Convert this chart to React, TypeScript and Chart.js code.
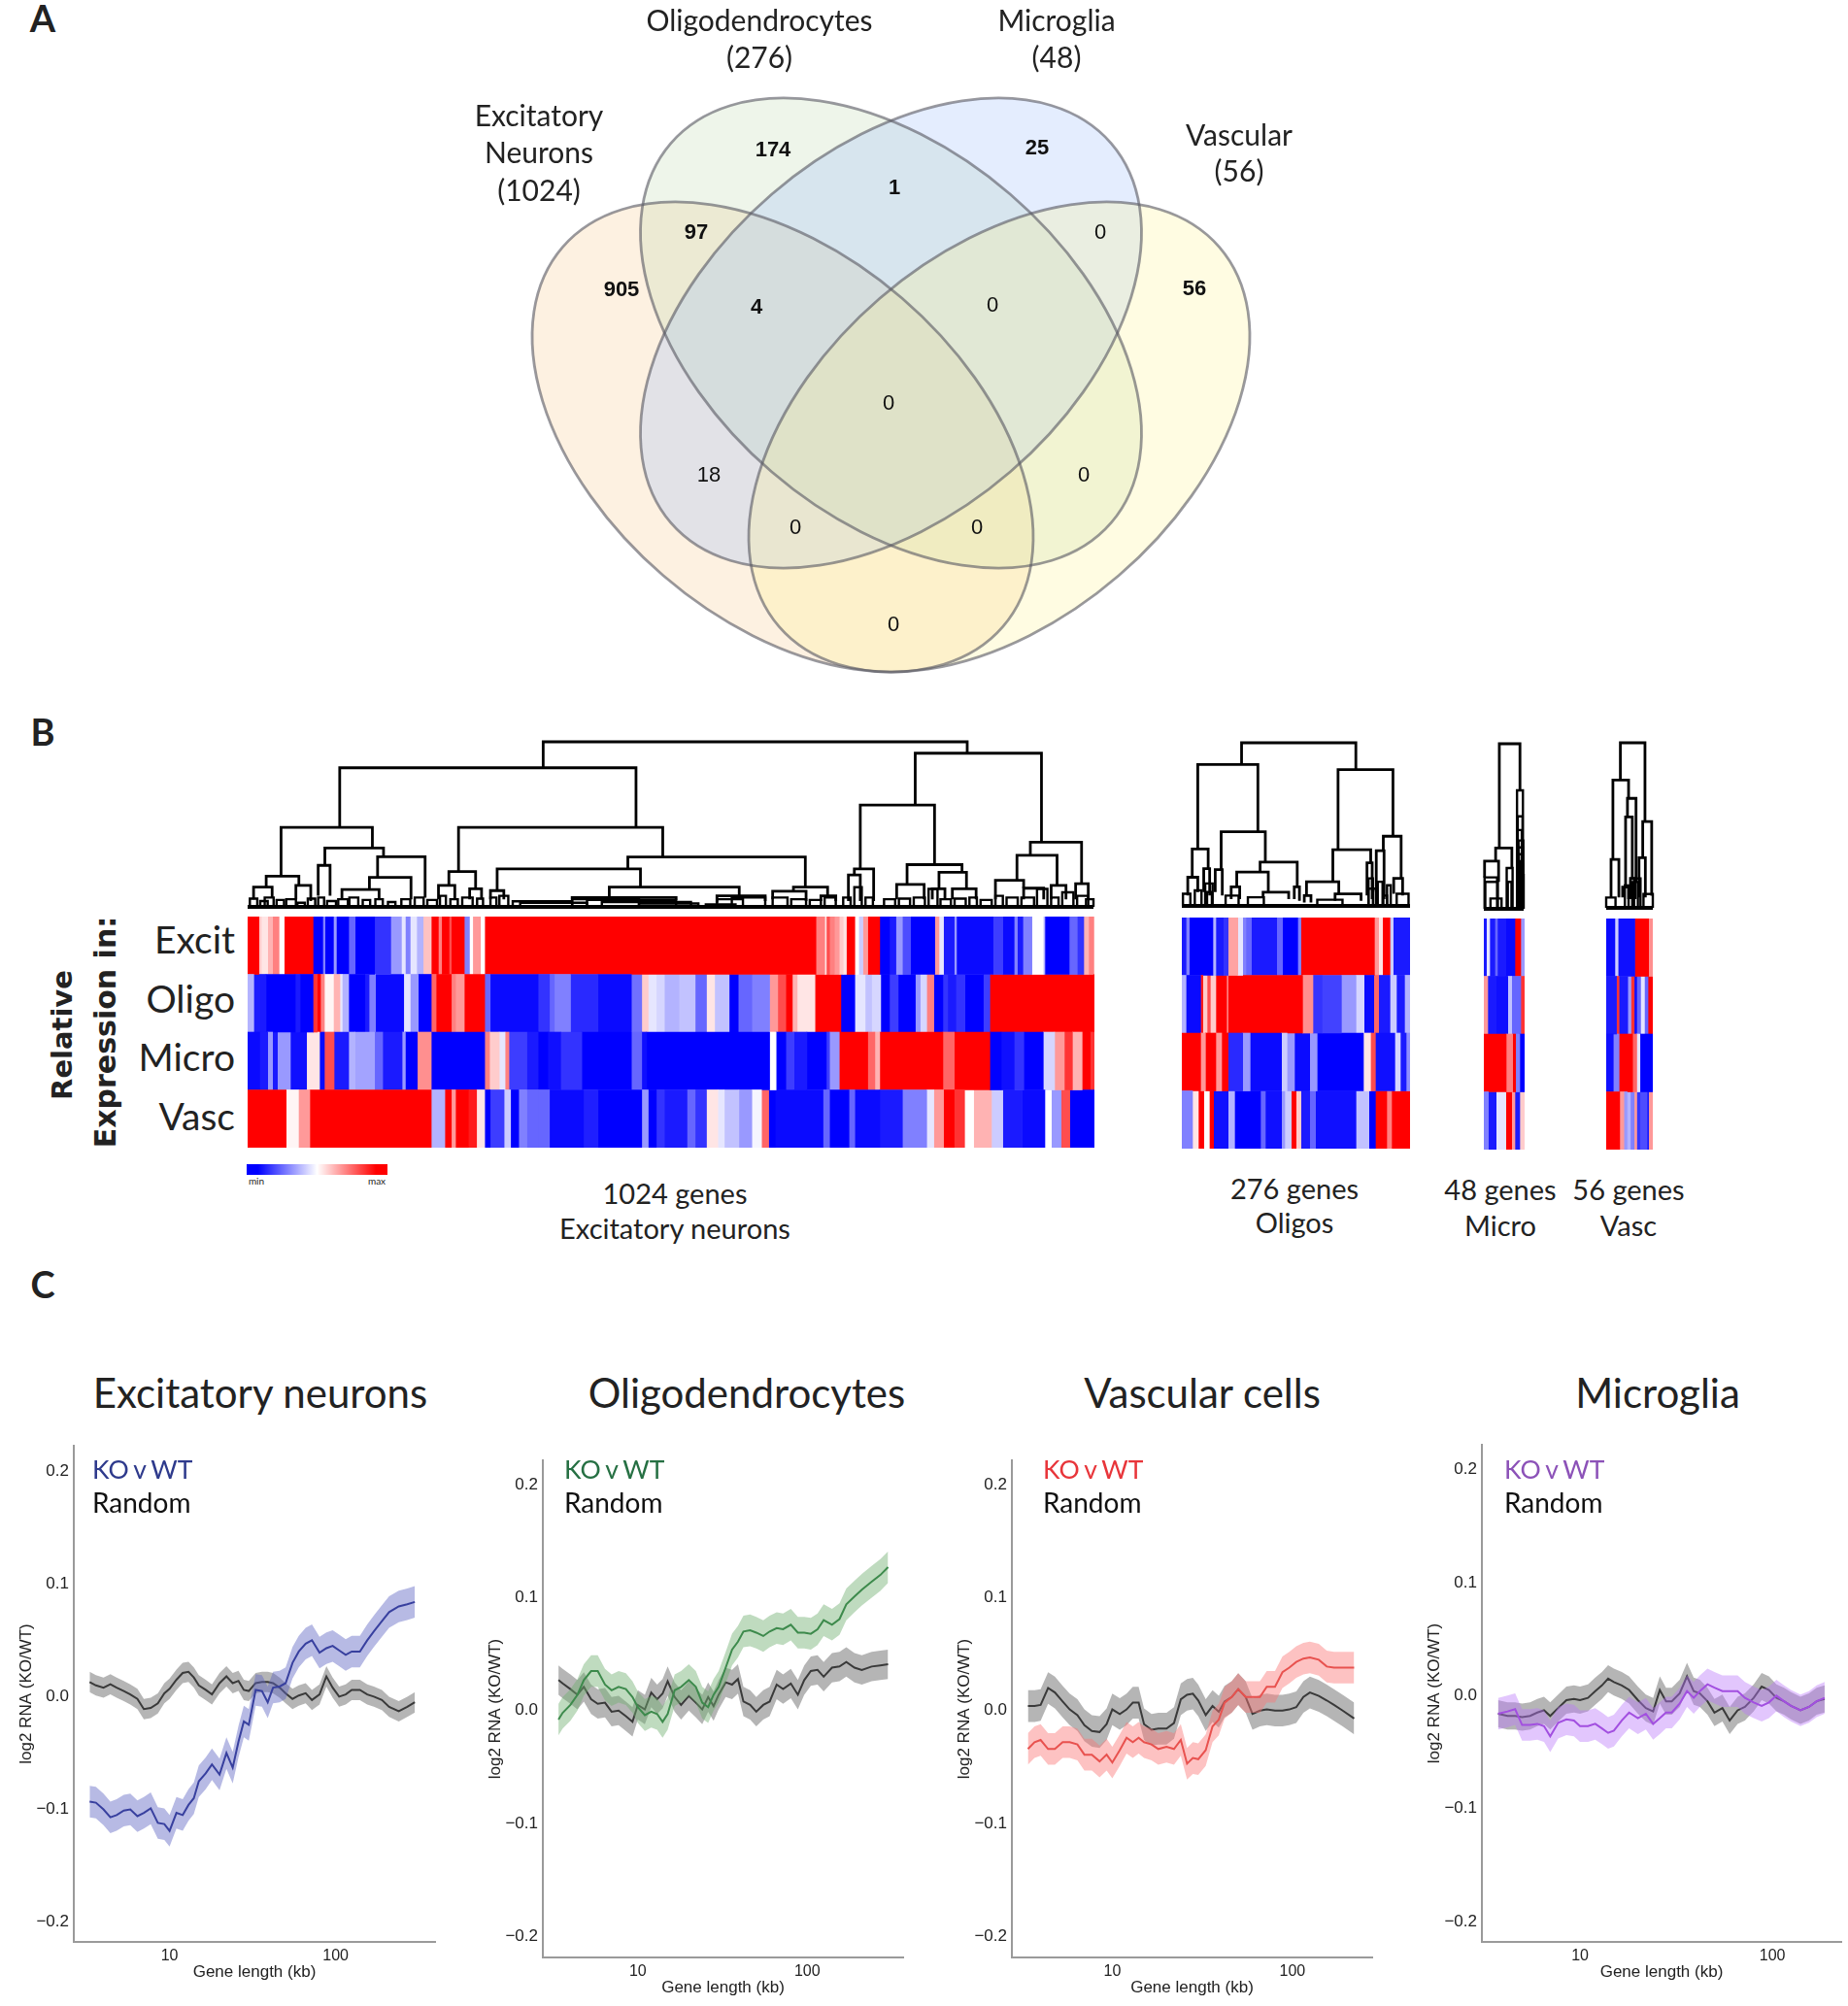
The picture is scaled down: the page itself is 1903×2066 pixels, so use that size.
import React, { useEffect, useRef } from "react";
import { Chart, registerables } from "chart.js";

Chart.register(...registerables);

/* ---------- Panel A: Venn ---------- */
const vennSets = ["Excitatory Neurons", "Oligodendrocytes", "Microglia", "Vascular"];
const vennSetSizes = [1024, 276, 48, 56];
const vennCenters = [[806, 450], [917.5, 343], [917.5, 343], [1029, 450]];
const vennTilts = [40.75, 40.75, -40.75, -40.75];
const vennFills = ["rgba(247,199,135,.25)", "rgba(187,215,171,.25)", "rgba(146,185,250,.25)", "rgba(255,245,140,.25)"];
const vennCounts = [905, 174, 25, 56, 97, 1, 0, 4, 0, 0, 18, 0, 0, 0, 0];
const vennCountX = [640, 796, 1068, 1230, 717, 921, 1133, 779, 1022, 915, 730, 1116, 819, 1006, 920];
const vennCountY = [299, 155, 153, 298, 240, 194, 240, 317, 315, 416, 490, 490, 544, 544, 644];
const vennBold = [1, 1, 1, 1, 1, 1, 0, 1, 0, 0, 0, 0, 0, 0, 0];

/* ---------- Panel B: heat maps, each run = [end position, relative expression 0..1] ---------- */
const rowNames = ["Excit", "Oligo", "Micro", "Vasc"];
const mainExcit = [[38,1],[45,.6],[65,.55],[80,.65],[100,.75],[116,.5],[205,1],[235,0],[242,.25],[268,0],[277,.3],[315,0],[335,.2],[395,0],[445,.1],[478,.3],[490,.45],[505,.25],[525,.45],[545,.35],[570,.62],[592,1],[602,.75],[625,1],[632,.85],[672,1],[688,.25],[698,.5],[722,.7],[735,.5],[1758,1],[1785,.75],[1790,.55],[1800,.85],[1815,.75],[1830,.7],[1842,.6],[1852,.55],[1878,1],[1890,.5],[1903,.4],[1918,.7],[1955,1],[1985,0],[2005,.05],[2025,.3],[2050,.15],[2125,0],[2138,.7],[2152,.45],[2185,.05],[2192,.3],[2305,.02],[2335,.12],[2370,.02],[2380,.25],[2397,.05],[2425,.25],[2460,.5],[2465,.35],[2540,0],[2565,.2],[2585,.1],[2600,.65],[2615,.75],[2618,.65]];
const mainOligo = [[22,.35],[60,.05],[150,0],[165,.05],[205,0],[218,.9],[228,1],[240,.75],[268,.52],[288,.65],[295,.45],[315,.35],[365,0],[378,.05],[398,.25],[485,.02],[505,.45],[530,.3],[570,0],[585,.8],[632,1],[645,.75],[672,.7],[735,1],[752,.2],[900,.02],[935,.1],[950,.2],[1000,.25],[1085,.08],[1188,.02],[1220,.22],[1240,.6],[1265,.45],[1290,.42],[1335,.35],[1385,.38],[1420,.2],[1445,.55],[1490,.38],[1518,0],[1560,.2],[1615,.25],[1640,.7],[1665,.85],[1685,1],[1700,.65],[1755,.55],[1835,1],[1878,0],[1910,.45],[1930,.38],[1958,.42],[1985,0],[2012,.12],[2065,0],[2080,.3],[2100,.42],[2122,.75],[2150,0],[2165,.1],[2190,.05],[2218,.1],[2275,0],[2295,.12],[2618,1]];
const mainMicro = [[40,.02],[65,.05],[80,.3],[95,.05],[135,.3],[185,.03],[225,.55],[240,.02],[270,.85],[315,.05],[335,.35],[395,.32],[420,.2],[480,.05],[490,.3],[527,0],[570,.72],[735,0],[750,.75],[780,.6],[798,.45],[810,.75],[865,.12],[900,.05],[930,0],[970,.03],[1035,.1],[1188,0],[1220,.2],[1235,.03],[1615,0],[1635,.5],[1665,0],[1690,.12],[1730,.05],[1790,0],[1800,.12],[1830,.3],[1918,1],[1940,.8],[1955,.65],[2150,1],[2185,.8],[2295,1],[2330,0],[2370,.03],[2400,.1],[2460,0],[2495,.42],[2525,.7],[2550,.9],[2580,.65],[2605,1],[2618,.9]];
const mainVasc = [[122,1],[160,.52],[195,.7],[570,1],[612,.35],[632,1],[645,.7],[685,1],[710,.95],[735,.55],[752,0],[795,.12],[815,.4],[840,0],[865,.25],[900,.2],[935,.2],[1040,.02],[1085,.06],[1220,0],[1240,.3],[1265,0],[1290,.1],[1360,.05],[1385,.2],[1420,.1],[1455,.55],[1475,.45],[1520,.38],[1560,.3],[1590,.48],[1612,.8],[1632,0],[1780,.02],[1800,.2],[1860,0],[1878,.2],[1955,.02],[2025,.05],[2100,.25],[2122,.45],[2152,.7],[2185,1],[2217,.9],[2245,.5],[2300,.65],[2335,.4],[2395,.05],[2465,.02],[2485,.5],[2515,.3],[2542,.85],[2618,0]];

const oligoExcit = [[20,.05],[30,.25],[103,0],[112,.35],[135,.05],[150,.1],[180,.68],[195,.45],[205,.25],[222,.2],[300,.05],[318,.2],[365,0],[375,.25],[602,1],[615,.7],[627,.55],[650,1],[660,.4],[712,.05]];
const oligoOligo = [[20,.35],[65,.02],[72,.95],[85,.6],[95,.85],[112,.6],[145,1],[150,.75],[380,1],[412,.72],[440,.1],[500,.13],[545,.3],[570,.42],[600,.02],[615,.8],[650,.05],[670,.4],[695,.05],[712,.35]];
const oligoMicro = [[65,1],[80,.7],[112,1],[130,.7],[150,1],[195,.08],[218,.3],[315,.02],[332,.4],[355,.3],[402,.02],[425,.3],[568,0],[590,.55],[605,.85],[665,.03],[682,.42],[700,.05],[712,.28]];
const oligoVasc = [[40,.25],[58,.55],[75,1],[92,.5],[105,1],[150,.03],[170,.35],[250,0],[265,.2],[315,.03],[325,.3],[345,.4],[360,1],[375,.6],[402,.05],[420,.2],[545,.03],[585,.38],[605,0],[640,1],[655,.75],[712,1]];

const microExcit = [[32,.05],[42,.45],[58,.05],[66,.2],[92,.05],[120,.02],[138,1],[150,.3]];
const microOligo = [[36,.7],[62,.05],[98,.03],[110,.38],[138,.2],[150,.9]];
const microMicro = [[93,1],[113,.75],[122,1],[135,.25],[150,0]];
const microVasc = [[38,.25],[62,.05],[92,.45],[110,1],[120,.7],[135,.05],[150,.6]];

const vascExcit = [[430,.02],[440,.4],[492,.03],[535,1],[548,.72]];
const vascOligo = [[435,.05],[443,.9],[470,.05],[480,.3],[490,.9],[498,.03],[510,.2],[522,.45],[533,.2],[548,1]];
const vascMicro = [[425,.03],[443,.25],[485,1],[498,.8],[508,.45],[548,0]];
const vascVasc = [[445,1],[458,.7],[468,.3],[478,.35],[490,.25],[498,.7],[508,.1],[530,.15],[535,.05],[548,.7]];

/* dendrogram merges: [left x, left bottom, right x, right bottom, top] */
const mainLinks = [[731,170,1302,128,95],[457,342,856,342,170],[1232,278,1402,385,128],[378,483,501,402,342],[617,470,892,428,342],[358,515,402,510,483],[437,452,516,427,402],[428,540,444,540,452],[508,487,572,545,427],[497,522,553,550,487],[460,550,510,550,522],[341,550,366,545,515],[398,550,418,555,510],[604,510,640,520,470],[590,550,612,550,510],[632,550,648,550,520],[845,462,1084,515,428],[669,525,862,515,462],[660,550,678,550,525],[820,545,995,540,515],[770,552,910,552,545],[965,560,1030,555,540],[1068,527,1114,540,515],[1040,550,1085,555,527],[1105,555,1125,555,540],[1158,462,1258,450,278],[1150,480,1176,555,462],[1142,555,1158,555,480],[1221,507,1295,472,450],[1207,550,1244,550,507],[1264,520,1301,520,472],[1255,550,1272,550,520],[1282,550,1314,550,520],[1387,423,1456,505,385],[1369,495,1423,510,423],[1340,550,1378,518,495],[1378,550,1405,550,518],[1415,550,1435,550,510],[1448,550,1465,550,505]];
const mainTwigs = [[336,346,548],[350,360,555],[356,368,545],[372,382,552],[385,398,550],[400,410,560],[414,424,548],[428,436,545],[440,452,555],[455,468,550],[470,482,545],[488,498,552],[505,515,550],[522,532,558],[540,552,550],[558,570,545],[575,588,552],[592,600,540],[606,616,550],[622,636,545],[642,650,548],[660,668,545],[672,684,540],[690,770,556],[700,790,560],[770,860,550],[790,910,552],[810,930,558],[860,940,562],[950,990,565],[965,1000,550],[985,1030,545],[1040,1060,545],[1065,1085,550],[1090,1105,552],[1110,1125,545],[1135,1145,545],[1150,1160,515],[1165,1175,545],[1190,1205,550],[1210,1225,548],[1230,1245,545],[1250,1262,520],[1266,1280,550],[1285,1300,548],[1305,1315,545],[1320,1335,552],[1340,1350,540],[1355,1370,545],[1375,1392,545],[1396,1410,520],[1415,1425,545],[1430,1445,530],[1450,1465,540],[1462,1472,550]];
const oligoLinks = [[258,160,566,175,97],[140,405,302,355,160],[518,407,666,368,175],[125,487,168,462,405],[203,465,322,443,355],[113,540,140,530,487],[156,530,172,540,462],[187,530,206,540,465],[308,472,408,515,443],[245,515,330,530,472],[230,550,253,550,515],[316,545,385,550,530],[400,550,414,555,515],[504,500,606,445,407],[640,410,688,490,368],[433,540,520,535,500],[427,560,445,560,540],[510,555,580,555,535],[596,540,610,550,445],[621,530,642,550,410],[668,535,692,540,490]];
const oligoTwigs = [[100,120,535],[132,150,525],[160,180,505],[215,250,540],[275,318,545],[462,530,552],[600,620,520],[650,660,510],[676,708,535],[165,178,530],[600,612,490],[625,638,500],[640,650,540]];
const microLinks = [[952,402,1008,235,100],[942,440,986,460,402],[912,487,950,500,440]];
const microTwigs = [[912,946,487],[914,948,500],[928,958,548],[972,988,460],[975,985,500],[1000,1016,235],[1002,1015,310],[1004,1017,380],[1005,1014,420],[1006,1016,450],[1008,1018,480],[1010,1015,510],[1001,1013,350],[1003,1016,400],[1007,1012,440]];
const vascLinks = [[1278,205,1344,325,97],[1258,435,1300,258,205],[1253,545,1274,545,435],[1297,312,1320,500,258],[1292,515,1310,490,312],[1284,545,1300,550,515],[1305,550,1318,550,490],[1338,430,1362,540,325],[1328,545,1345,545,430]];
const vascTwigs = [[1240,1265,545],[1315,1332,490],[1340,1365,535],[1290,1300,510],[1310,1325,500]];

const heatPanels = [
  { rows: [mainExcit, mainOligo, mainMicro, mainVasc], h0: 3, h1: 2618, hLeft: 255, hRight: 1126.5, top: 944, bottom: 1182,
    x0: 333, x1: 1472, left: 254.5, right: 1125, links: mainLinks, twigs: mainTwigs, yTop: 95, yBase: 572, treeTop: 764, treeBottom: 934 },
  { rows: [oligoExcit, oligoOligo, oligoMicro, oligoVasc], h0: 7, h1: 712, hLeft: 1217.3, hRight: 1452.3, top: 945, bottom: 1183,
    x0: 97, x1: 712, left: 1217, right: 1452, links: oligoLinks, twigs: oligoTwigs, yTop: 97, yBase: 570, treeTop: 764.6, treeBottom: 933 },
  { rows: [microExcit, microOligo, microMicro, microVasc], h0: 24, h1: 150, hLeft: 1528, hRight: 1570, top: 946, bottom: 1184,
    x0: 910, x1: 1018, left: 1527.8, right: 1569, links: microLinks, twigs: microTwigs, yTop: 100, yBase: 578, treeTop: 765.7, treeBottom: 936 },
  { rows: [vascExcit, vascOligo, vascMicro, vascVasc], h0: 403, h1: 548, hLeft: 1654.3, hRight: 1702.7, top: 946, bottom: 1184,
    x0: 1240, x1: 1365, left: 1654, right: 1701.7, links: vascLinks, twigs: vascTwigs, yTop: 97, yBase: 575, treeTop: 764.6, treeBottom: 935 },
];

/* ---------- Panel C: series ---------- */
const gridExcit = [3.3,3.6,4,4.4,4.8,5.3,5.8,6.4,7,7.7,8.5,9.3,10,11,12,13,14,15,16.5,18,20,22,24,26,28,30,33,36,39,42,46,50,55,60,66,72,80,88,96,105,115,125,140,155,170,190,210,240,270,300];
const excitKO = [-.093,-.094,-.1,-.107,-.105,-.101,-.1,-.106,-.103,-.099,-.112,-.113,-.119,-.103,-.105,-.096,-.09,-.075,-.068,-.06,-.069,-.05,-.063,-.04,-.022,-.025,.006,.005,-.005,.008,.009,.012,.03,.04,.047,.05,.039,.043,.045,.041,.037,.04,.04,.05,.058,.067,.075,.08,.082,.084];
const excitRandom = [.013,.01,.008,.011,.008,.005,.002,-.002,-.011,-.01,-.006,.003,.007,.015,.021,.022,.017,.01,.006,.002,.012,.018,.012,.014,.006,.005,.012,.013,.013,.012,.008,.003,-.002,.001,.003,-.003,.002,.018,.008,0,.002,.006,.006,.002,0,-.003,-.009,-.013,-.009,-.005];

const gridOligo = [3.4,3.6,4,4.4,4.8,5.3,5.8,6.4,7,7.7,8.5,9.3,10,11,12,13,14,15,16.5,18,20,22,24,26,28,30,33,36,39,42,46,50,55,60,66,72,80,88,96,105,115,125,140,155,170,190,210,240,270,300];
const oligoKO = [-.008,-.002,.005,.014,.027,.035,.035,.023,.018,.021,.019,.012,.003,-.004,-.001,-.003,-.01,-.003,.018,.021,.027,.021,.007,.003,.014,.021,.038,.054,.061,.07,.071,.069,.066,.07,.073,.072,.076,.069,.069,.068,.072,.08,.076,.081,.094,.101,.107,.114,.12,.127];
const oligoRandom = [.027,.024,.019,.014,.021,.01,.006,.007,-.001,0,-.005,-.01,.005,.001,.016,.01,.015,.026,.012,.005,.013,.007,.001,.012,.004,.014,.025,.023,.028,.008,.005,-.001,.005,.008,.023,.019,.024,.014,.027,.035,.036,.03,.038,.039,.043,.038,.036,.039,.04,.041];

const gridVasc = [3.4,3.7,4,4.4,4.8,5.3,5.8,6.4,7,7.7,8.5,9.3,10,11,12,13,14,15,16.5,18,20,22,24,26,28,30,33,36,39,42,46,50,55,60,66,72,80,88,96,105,115,125,140,155,170,190,220];
const vascKO = [-.034,-.028,-.026,-.034,-.034,-.028,-.028,-.03,-.039,-.039,-.045,-.039,-.046,-.035,-.024,-.028,-.024,-.028,-.03,-.034,-.032,-.034,-.026,-.047,-.042,-.043,-.035,-.014,-.008,.007,.012,.019,.012,.012,.012,.021,.021,.034,.038,.043,.046,.047,.045,.039,.038,.038,.038];
const vascRandom = [.004,.004,.005,.02,.016,.008,.001,-.004,-.013,-.018,-.019,-.012,.001,-.003,.001,.007,.007,-.012,-.017,-.016,-.016,-.011,.01,.014,.015,.009,-.004,.004,-.001,.008,.012,.019,.012,-.003,0,.001,0,0,.001,.003,.012,.016,.013,.009,.005,0,-.007];

const gridMicro = [3.75,4.2,4.6,5,5.5,6,6.5,7,7.7,8.5,9.3,10,11,12,13,14,15,16.5,18,20,22,24,26,28,30,33,36,39,42,46,50,55,60,66,72,80,88,96,105,115,125,140,155,170,187];
const microKO = [-.016,-.014,-.012,-.026,-.026,-.025,-.027,-.036,-.024,-.021,-.022,-.027,-.027,-.025,-.029,-.033,-.031,-.022,-.015,-.02,-.016,-.025,-.02,-.015,-.015,-.007,.004,-.002,.004,.01,.007,.004,.004,.004,-.002,-.006,-.009,-.006,0,-.005,-.009,-.013,-.01,-.005,-.002];
const microRandom = [-.016,-.018,-.018,-.019,-.018,-.015,-.013,-.018,-.011,-.004,-.003,-.004,-.002,.004,.009,.015,.012,.009,.005,-.004,-.011,-.014,.005,-.005,-.005,.002,.017,.004,.002,-.005,-.015,-.011,-.022,-.013,-.01,-.002,.008,.005,-.002,-.005,-.009,-.013,-.01,-.005,-.003];

const yTicks = [-0.2, -0.1, 0, 0.1, 0.2];
const xTicks = [10, 100];

const linePanels = [
  { title: "Excitatory neurons", titleX: 268, grid: gridExcit, ko: excitKO, random: excitRandom, koErr: .014, randErr: .009, yMin: -.2175, yMax: .2225,
    line: "#38409f", band: "rgba(96,102,196,.45)", legendColor: "#2e3a8c", legendX: 95, left: 75.5, right: 447, top: 1489, bottom: 2000, xMin: 2.65, xMax: 397 },
  { title: "Oligodendrocytes", titleX: 769, grid: gridOligo, ko: oligoKO, random: oligoRandom, koErr: .014, randErr: .013, yMin: -.2185, yMax: .2215,
    line: "#3d8a4c", band: "rgba(112,176,112,.45)", legendColor: "#267043", legendX: 581, left: 558.8, right: 929.5, top: 1504, bottom: 2016, xMin: 2.75, xMax: 368 },
  { title: "Vascular cells", titleX: 1238, grid: gridVasc, ko: vascKO, random: vascRandom, koErr: .014, randErr: .014, yMin: -.2185, yMax: .2215,
    line: "#e8524f", band: "rgba(250,120,120,.45)", legendColor: "#e8353a", legendX: 1074, left: 1042, right: 1412.8, top: 1504, bottom: 2016, xMin: 2.77, xMax: 277 },
  { title: "Microglia", titleX: 1707, grid: gridMicro, ko: microKO, random: microRandom, koErr: .014, randErr: .012, yMin: -.218, yMax: .222,
    line: "#a24fe0", band: "rgba(186,120,250,.42)", legendColor: "#8c52b8", legendX: 1549, left: 1525.6, right: 1895.7, top: 1488, bottom: 2000, xMin: 3.09, xMax: 228 },
];

const LATO = "Lato, 'Open Sans', sans-serif";

function heatColor(v: number) {
  if (v <= 0.5) {
    const c = Math.round(255 * (v / 0.5));
    return `rgb(${c},${c},255)`;
  }
  const c = Math.round(255 * ((1 - v) / 0.5));
  return `rgb(255,${c},${c})`;
}

function useChart(make: (c: HTMLCanvasElement) => Chart) {
  const ref = useRef<HTMLCanvasElement | null>(null);
  useEffect(() => {
    const chart = make(ref.current as HTMLCanvasElement);
    return () => chart.destroy();
  }, []);
  return ref;
}

function Venn() {
  const ref = useChart((canvas) => {
    const plugin = {
      id: "venn",
      beforeDatasetsDraw(chart: any) {
        const { ctx, scales } = chart;
        const draw = (fill: boolean) => {
          vennCenters.forEach((c, i) => {
            ctx.beginPath();
            ctx.ellipse(scales.x.getPixelForValue(c[0]), scales.y.getPixelForValue(c[1]), 299.3, 188.5, (vennTilts[i] * Math.PI) / 180, 0, Math.PI * 2);
            if (fill) {
              ctx.fillStyle = vennFills[i];
              ctx.fill();
            } else {
              ctx.strokeStyle = "rgba(90,90,100,.62)";
              ctx.lineWidth = 2.8;
              ctx.stroke();
            }
          });
        };
        draw(true);
        draw(false);
      },
      afterDatasetsDraw(chart: any) {
        const { ctx } = chart;
        const pts = chart.getDatasetMeta(0).data;
        ctx.save();
        ctx.fillStyle = "#111";
        ctx.textAlign = "center";
        ctx.textBaseline = "middle";
        pts.forEach((p: any, i: number) => {
          ctx.font = `${vennBold[i] ? "bold " : ""}22px "Liberation Sans"`;
          ctx.fillText(String(vennCounts[i]), p.x, p.y);
        });
        ctx.restore();
      },
    };
    return new Chart(canvas, {
      type: "scatter",
      data: { datasets: [{ label: "counts", data: vennCounts.map((_, i) => ({ x: vennCountX[i], y: vennCountY[i] })), pointRadius: 0 }] },
      options: {
        animation: false, responsive: false, events: [],
        layout: { padding: 0 },
        plugins: { legend: { display: false }, tooltip: { enabled: false } },
        scales: {
          x: { type: "linear", min: 0, max: 1903, display: false },
          y: { type: "linear", min: 0, max: 720, reverse: true, display: false },
        },
      },
      plugins: [plugin],
    } as any);
  });
  return <canvas ref={ref} width={1903} height={720} style={{ position: "absolute", left: 0, top: 0 }} />;
}

function Heat({ p }: { p: any }) {
  const w = Math.round(p.hRight - p.hLeft);
  const h = Math.round(p.bottom - p.top);
  const ref = useChart((canvas) => {
    const runs = Math.max(...p.rows.map((r: number[][]) => r.length));
    const datasets: any[] = [];
    for (let i = 0; i < runs; i++) {
      datasets.push({
        data: p.rows.map((r: number[][]) => (r[i] ? r[i][0] - (i ? r[i - 1][0] : p.h0) : 0)),
        backgroundColor: p.rows.map((r: number[][]) => (r[i] ? heatColor(r[i][1]) : "rgba(0,0,0,0)")),
        borderWidth: 0,
        barPercentage: 1,
        categoryPercentage: 1,
      });
    }
    return new Chart(canvas, {
      type: "bar",
      data: { labels: rowNames, datasets },
      options: {
        indexAxis: "y", animation: false, responsive: false, events: [],
        layout: { padding: 0 },
        plugins: { legend: { display: false }, tooltip: { enabled: false } },
        scales: {
          x: { stacked: true, min: 0, max: p.h1 - p.h0, display: false },
          y: { stacked: true, display: false },
        },
      },
    } as any);
  });
  return <canvas ref={ref} width={w} height={h} style={{ position: "absolute", left: p.hLeft, top: p.top, width: w, height: h, filter: "blur(.6px)" }} />;
}

function Tree({ p }: { p: any }) {
  const pad = 5;
  const w = Math.round(p.right - p.left) + pad * 2;
  const h = Math.round(p.treeBottom - p.treeTop) + pad * 2;
  const ref = useChart((canvas) => {
    const style = { showLine: true, pointRadius: 0, borderColor: "#000", borderWidth: 2.8, tension: 0, clip: false, fill: false, borderJoinStyle: "miter" };
    const datasets: any[] = [];
    p.links.forEach((l: number[]) => {
      datasets.push({ ...style, data: [{ x: l[0], y: l[1] }, { x: l[0], y: l[4] }, { x: l[2], y: l[4] }, { x: l[2], y: l[3] }] });
    });
    p.twigs.forEach((t: number[]) => {
      datasets.push({ ...style, borderWidth: 2.4, data: [{ x: t[0], y: p.yBase }, { x: t[0], y: t[2] }, { x: t[1], y: t[2] }, { x: t[1], y: p.yBase }] });
    });
    datasets.push({ ...style, borderWidth: 4, data: [{ x: p.x0, y: p.yBase }, { x: p.x1, y: p.yBase }] });
    return new Chart(canvas, {
      type: "scatter",
      data: { datasets },
      options: {
        animation: false, responsive: false, events: [],
        layout: { padding: pad },
        plugins: { legend: { display: false }, tooltip: { enabled: false } },
        scales: {
          x: { type: "linear", min: p.x0, max: p.x1, display: false },
          y: { type: "linear", min: p.yTop, max: p.yBase, reverse: true, display: false },
        },
      },
    } as any);
  });
  return <canvas ref={ref} width={w} height={h} style={{ position: "absolute", left: p.left - pad, top: p.treeTop - pad, width: w, height: h }} />;
}

function LinePanel({ p }: { p: any }) {
  const gutter = 74, under = 62, padTop = 5, padRight = 10;
  const w = Math.round(p.right - p.left) + gutter + padRight;
  const h = Math.round(p.bottom - p.top) + under + padTop;
  const ref = useChart((canvas) => {
    const pts = (ys: number[], off: number) => ys.map((y, i) => ({ x: p.grid[i], y: y + off }));
    const base = { pointRadius: 0, tension: 0 };
    const noPad = (s: any) => { s.paddingTop = 0; s.paddingBottom = 0; s.paddingLeft = 0; s.paddingRight = 0; };
    return new Chart(canvas, {
      type: "line",
      data: {
        datasets: [
          { ...base, label: "KO v WT", data: pts(p.ko, 0), borderColor: p.line, borderWidth: 2, fill: false },
          { ...base, data: pts(p.ko, p.koErr), borderWidth: 0, fill: "+1", backgroundColor: p.band },
          { ...base, data: pts(p.ko, -p.koErr), borderWidth: 0, fill: false },
          { ...base, label: "Random", data: pts(p.random, 0), borderColor: "#3a3a3a", borderWidth: 2, fill: false },
          { ...base, data: pts(p.random, p.randErr), borderWidth: 0, fill: "+1", backgroundColor: "rgba(90,90,90,.45)" },
          { ...base, data: pts(p.random, -p.randErr), borderWidth: 0, fill: false },
        ],
      },
      options: {
        animation: false, responsive: false, events: [],
        layout: { padding: { top: padTop, right: padRight, left: 0, bottom: 0 } },
        plugins: { legend: { display: false }, tooltip: { enabled: false } },
        scales: {
          x: {
            type: "logarithmic", min: p.xMin, max: p.xMax,
            grid: { display: false, drawTicks: false },
            border: { color: "#9a9a9a", width: 2 },
            afterBuildTicks: (a: any) => { a.ticks = xTicks.map((value) => ({ value })); },
            afterFit: (s: any) => { s.height = under; noPad(s); },
            ticks: { autoSkip: false, maxRotation: 0, padding: 5, color: "#222", font: { family: "'Liberation Sans'", size: 16 }, callback: (v: any) => String(v) },
            title: { display: true, text: "Gene length (kb)", color: "#222", padding: { top: 0, bottom: 20 }, font: { family: "'Liberation Sans'", size: 17 } },
          },
          y: {
            type: "linear", min: p.yMin, max: p.yMax,
            grid: { display: false, drawTicks: false },
            border: { color: "#9a9a9a", width: 2 },
            afterBuildTicks: (a: any) => { a.ticks = yTicks.map((value) => ({ value })); },
            afterFit: (s: any) => { s.width = gutter; noPad(s); },
            ticks: { padding: 5, color: "#222", font: { family: "'Liberation Sans'", size: 17 }, callback: (v: any) => (v < 0 ? "\u2212" : "") + Math.abs(v).toFixed(1) },
            title: { display: true, text: "log2 RNA (KO/WT)", color: "#222", padding: { top: 15, bottom: 0 }, font: { family: "'Liberation Sans'", size: 17 } },
          },
        },
      },
    } as any);
  });
  return <canvas ref={ref} width={w} height={h} style={{ position: "absolute", left: p.left - gutter, top: p.top - padTop, width: w, height: h }} />;
}

function T({ x, y, size = 29, children, color = "#222", align = "center", weight = 400, family = LATO, rotate = 0, wordSpacing = 0 }: any) {
  const tx = align === "center" ? "-50%" : align === "right" ? "-100%" : "0";
  return (
    <div style={{ position: "absolute", left: x, top: y, transform: `translate(${tx},-50%) rotate(${rotate}deg)`, fontFamily: family, fontSize: size, color, fontWeight: weight, whiteSpace: "nowrap", lineHeight: 1, wordSpacing }}>
      {children}
    </div>
  );
}

export default function App() {
  return (
    <div style={{ position: "absolute", left: 0, top: 0, width: 1903, height: 2066, overflow: "hidden", background: "#fff", filter: "blur(.4px)" }}>
      <T x={44} y={18} size={38} weight={700}>A</T>
      <T x={44} y={753} size={38} weight={700}>B</T>
      <T x={44} y={1322} size={38} weight={700}>C</T>

      <Venn />
      <T x={782} y={20} size={30}>{vennSets[1]}</T>
      <T x={782} y={58} size={30}>({vennSetSizes[1]})</T>
      <T x={1088} y={20} size={30}>{vennSets[2]}</T>
      <T x={1088} y={58} size={30}>({vennSetSizes[2]})</T>
      <T x={555} y={118} size={30}>Excitatory</T>
      <T x={555} y={156} size={30}>Neurons</T>
      <T x={555} y={195} size={30}>({vennSetSizes[0]})</T>
      <T x={1276} y={138} size={30}>{vennSets[3]}</T>
      <T x={1276} y={175} size={30}>({vennSetSizes[3]})</T>

      {heatPanels.map((p, i) => <Tree key={"t" + i} p={p} />)}
      {heatPanels.map((p, i) => <Heat key={"h" + i} p={p} />)}

      {rowNames.map((n, i) => (
        <T key={n} x={242} y={967 + i * 60.5} size={39} align="right">{n}</T>
      ))}
      <T x={64} y={1066} size={29} weight={700} family="'DejaVu Sans'" rotate={-90}>Relative</T>
      <T x={109} y={1063} size={30} weight={700} family="'DejaVu Sans'" rotate={-90}>Expression in:</T>

      <div style={{ position: "absolute", left: 254, top: 1199, width: 145, height: 11, background: "linear-gradient(90deg,#0000ff 0%,#0000ff 8%,#ffffff 50%,#ff0000 92%,#ff0000 100%)" }} />
      <T x={264} y={1216} size={10}>min</T>
      <T x={388} y={1216} size={10}>max</T>

      <T x={695} y={1228}>1024 genes</T>
      <T x={695} y={1264}>Excitatory neurons</T>
      <T x={1333} y={1223}>276 genes</T>
      <T x={1333} y={1258}>Oligos</T>
      <T x={1545} y={1224}>48 genes</T>
      <T x={1545} y={1261}>Micro</T>
      <T x={1677} y={1224}>56 genes</T>
      <T x={1677} y={1261}>Vasc</T>

      {linePanels.map((p, i) => <LinePanel key={"l" + i} p={p} />)}
      {linePanels.map((p, i) => (
        <React.Fragment key={"lt" + i}>
          <T x={p.titleX} y={1434} size={42}>{p.title}</T>
          <T x={p.legendX} y={1513} size={26.5} align="left" color={p.legendColor} wordSpacing={-1.5}>KO v WT</T>
          <T x={p.legendX} y={1547} size={28} align="left" color="#111">Random</T>
        </React.Fragment>
      ))}
    </div>
  );
}
